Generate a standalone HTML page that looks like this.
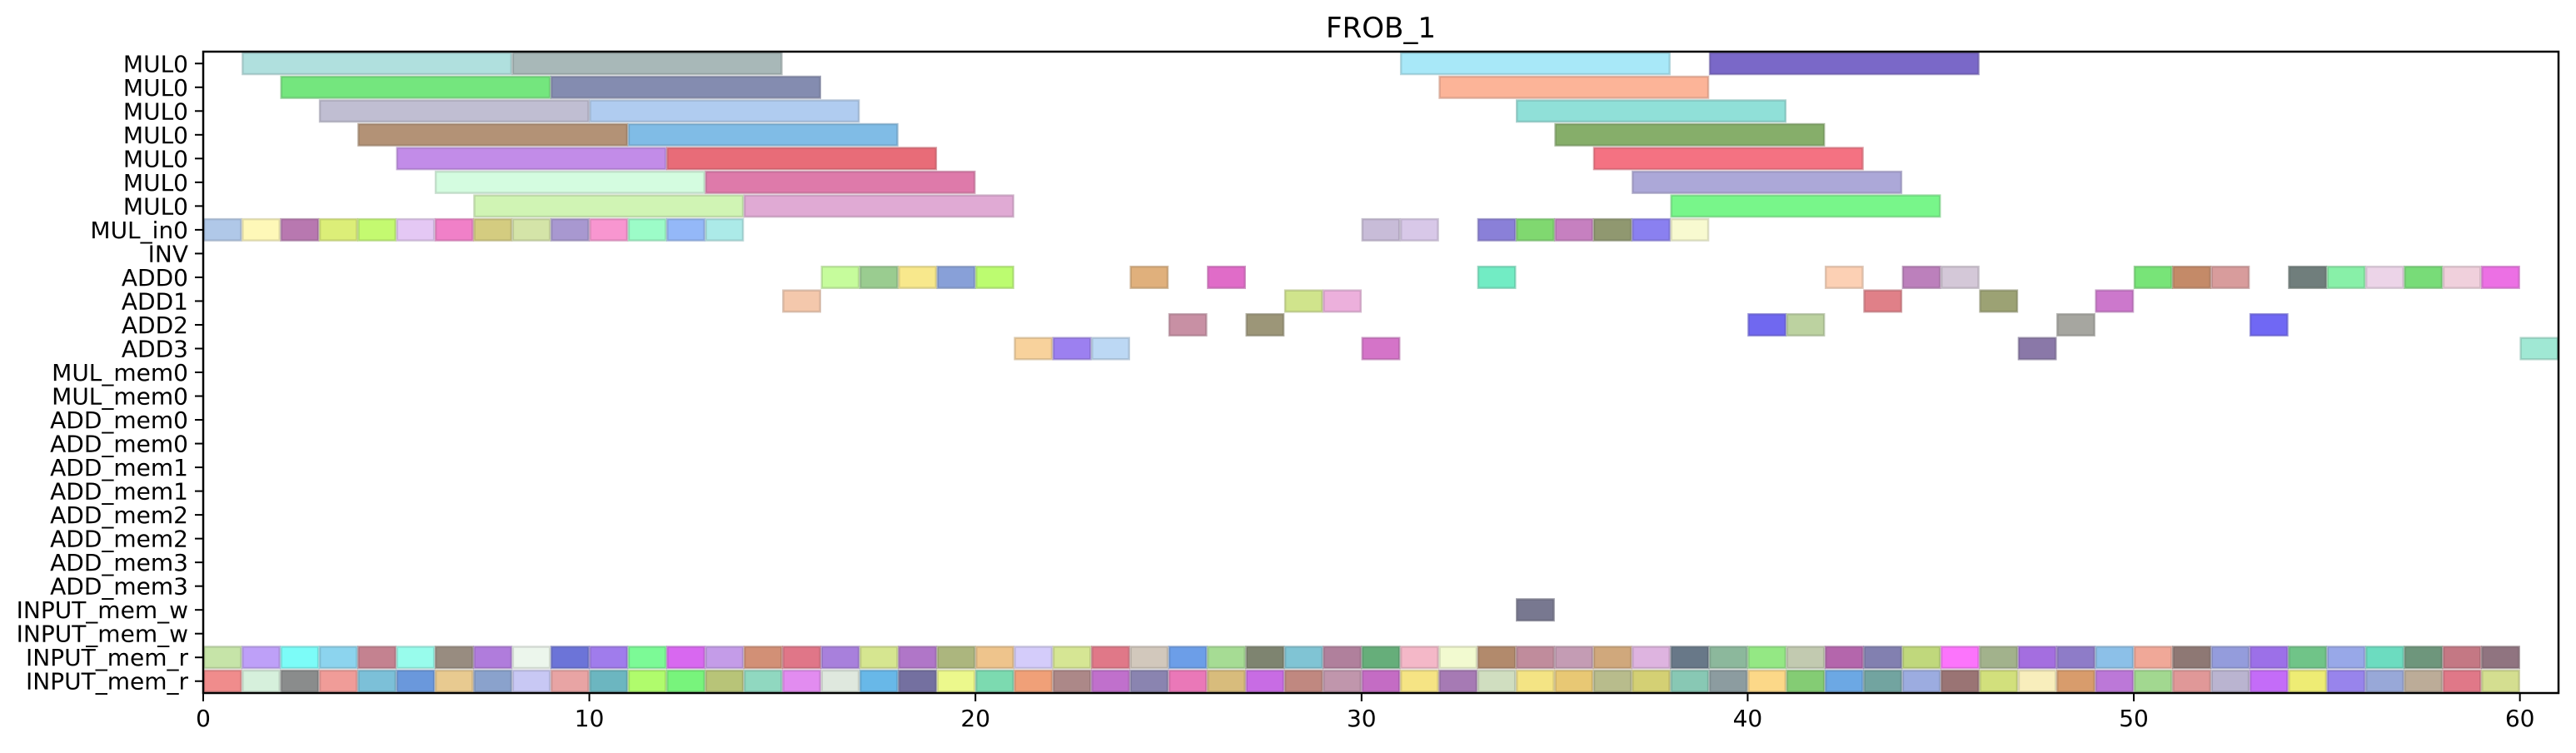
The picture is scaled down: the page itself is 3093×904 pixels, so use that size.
<!DOCTYPE html>
<html><head><meta charset="utf-8"><style>
html,body{margin:0;padding:0;background:#fff;}
svg text{font-family:"DejaVu Sans","Liberation Sans",sans-serif;fill:#000;}
</style></head><body>
<svg id="chart" width="3093" height="899" xmlns="http://www.w3.org/2000/svg">
<text x="1658" y="45" font-size="34" text-anchor="middle">FROB_1</text>
<g id="bars"></g>
<g id="axes"></g>
</svg>
<script>
const rowLabels=["MUL0","MUL0","MUL0","MUL0","MUL0","MUL0","MUL0","MUL_in0","INV","ADD0","ADD1","ADD2","ADD3","MUL_mem0","MUL_mem0","ADD_mem0","ADD_mem0","ADD_mem1","ADD_mem1","ADD_mem2","ADD_mem2","ADD_mem3","ADD_mem3","INPUT_mem_w","INPUT_mem_w","INPUT_mem_r","INPUT_mem_r"];
const xTicks=[0,10,20,30,40,50,60];
// task arrays: row index, start, end, color
const taskRows=[0,0,0,0, 1,1,1, 2,2,2, 3,3,3, 4,4,4, 5,5,5, 6,6,6];
const taskStarts=[1,8,31,39, 2,9,32, 3,10,34, 4,11,35, 5,12,36, 6,13,37, 7,14,38];
const taskEnds=[8,15,38,46, 9,16,39, 10,17,41, 11,18,42, 12,19,43, 13,20,44, 14,21,45];
const taskColors=["#b0e0de","#a8b8b8","#a8e8f8","#7a68c8","#74e67e","#848cb0","#fcb498","#c0bed2","#b0ccf0","#90e0d8","#b39276","#80bce6","#86ae6a","#c28ce8","#e86c78","#f47282","#d4fce0","#de7aaa","#aca8d8","#d0f4b4","#e0aad4","#78f68a"];
// unit-length slots
const slotRows=[7,7,7,7,7,7,7,7,7,7,7,7,7,7,7,7,7,7,7,7,7,7, 9,9,9,9,9,9,9,9,9,9,9,9,9,9,9,9,9,9,9,9, 10,10,10,10,10,10, 11,11,11,11,11,11, 12,12,12,12,12,12, 23];
const slotStarts=[0,1,2,3,4,5,6,7,8,9,10,11,12,13,30,31,33,34,35,36,37,38, 16,17,18,19,20,24,26,33,42,44,45,50,51,52,54,55,56,57,58,59, 15,28,29,43,46,49, 25,27,40,41,48,53, 21,22,23,30,47,60, 34];
const slotColors=["#b0c8e8","#fef8b8","#b878b0","#dcee78","#c4fa70","#e4c8f4","#f080c8","#d4cc80","#d4e4a8","#a898d0","#f896d0","#9cfcc8","#94b8f8","#aceae8","#c8bcd8","#d8c8e8","#8a80d8","#80d870","#c680c0","#909870","#8a80f0","#f8fad0",
"#c6fc9c","#9acc90","#f8e88c","#88a0d8","#bcfc70","#e0b07c","#e06cc8","#72ecc4","#fcd0b4","#bc80bc","#d4c8d8","#78e478","#c48a68","#d89c9c","#707e7c","#88f0a8","#ecd4e8","#78dc78","#f0d0dc","#ec70e4",
"#f4c8ac","#d0e48c","#ecb0dc","#e08088","#9ca274","#cc78cc",
"#c890a4","#9c9678","#7068f0","#bcd2a0","#a6a6a0","#7068f4",
"#f8d29c","#9c80f0","#bcd8f4","#d474c8","#8a78a8","#a0e8d4",
"#787890"];
const memR1Colors=["#c6e4a8","#bea0f8","#7cfcf8","#8cd4ee","#c48290","#98fcec","#988c80","#b07cdc","#ecf6ec","#6c74d8","#a07cec","#7cfa96","#d868f0","#c49ce8","#d29076","#e07688","#a880dc","#d6e690","#b076c8","#acb67e","#eec48c","#d4ccfa","#d6e694","#e07888","#d2c8bc","#6c9ee8","#a6dc94","#7e8470","#80c4d4","#b0809c","#66ae7a","#f4b8c8","#f2fad0","#b28a6c","#c08c9c","#c49cb4","#d0a87c","#deb4e0","#687888","#8cb89c","#94e884","#c2cab0","#b466ac","#8280b0","#c0d87c","#fc74fc","#a2b28c","#a46ee0","#8e7cc8","#8cc0e8","#f0a898","#8e7874","#949cdc","#9c70e8","#70c488","#98a8e8","#6cdcc0","#6e967c","#c47884","#907480"];
const memR2Colors=["#f08c8c","#d6f0dc","#8a8c8c","#f09c98","#7cc0d8","#6a98dc","#e8ca90","#8aa2cc","#c8c8f4","#e8a4a4","#6cb6c0","#b0fc6c","#78f47c","#b8c478","#90d8c0","#e28cf0","#dfe8de","#68b8e8","#7470a0","#ecf88c","#7cdab0","#f0a078","#ac8888","#c070cc","#8a84b0","#ea78b8","#d8bc7c","#c86ce4","#c08880","#c096ac","#c46cc4","#f6e484","#a67ab4","#d0dec0","#f4e484","#e8c874","#b8bc8c","#d4d074","#88c8b4","#8c9ca0","#fcd888","#84cc74","#6ca8e4","#72a4a0","#9cace0","#9a7474","#d2e07c","#f8eebc","#d89c6c","#bc78d8","#a2d890","#e09898","#bab4d0","#c46cf8","#eeec74","#9884ec","#98a8d8","#bcac98","#e07888","#d4de90"];

const NS="http://www.w3.org/2000/svg";
const L=244,R=3072,T=62,B=832,XMAX=61;
const nRows=rowLabels.length, rowH=(B-T)/nRows;
function xs(v){return L+(R-L)*v/XMAX;}
function yc(i){return T+(i+0.5)*rowH;}
function darker(c){const n=parseInt(c.slice(1),16);const f=0.8;
 const r=Math.round(((n>>16)&255)*f),g=Math.round(((n>>8)&255)*f),b=Math.round((n&255)*f);
 return "rgb("+r+","+g+","+b+")";}
const bars=document.getElementById('bars');
function bar(row,s,e,col,name){
 const r=document.createElementNS(NS,'rect');
 const x0=xs(s),x1=Math.min(xs(e),R);
 r.setAttribute('x',x0+1);r.setAttribute('y',yc(row)-rowH/2+1.5);
 r.setAttribute('width',Math.max(0,x1-x0-2));r.setAttribute('height',rowH-3);
 r.setAttribute('fill',col);r.setAttribute('stroke',darker(col));r.setAttribute('stroke-width','2.5');
 r.setAttribute('stroke-opacity','0.6');
 
 
 bars.appendChild(r);}
for(let i=0;i<taskRows.length;i++) bar(taskRows[i],taskStarts[i],taskEnds[i],taskColors[i],'mul0-task');
for(let i=0;i<slotRows.length;i++) bar(slotRows[i],slotStarts[i],slotStarts[i]+1,slotColors[i],'slot-bar');
for(let i=0;i<memR1Colors.length;i++) bar(25,i,i+1,memR1Colors[i],'input-mem-r-bar');
for(let i=0;i<memR2Colors.length;i++) bar(26,i,i+1,memR2Colors[i],'input-mem-r-bar');

const axes=document.getElementById('axes');
function el(tag,attrs,name,txt){const e=document.createElementNS(NS,tag);for(const k in attrs)e.setAttribute(k,attrs[k]);
 
 
 if(txt!==undefined)e.textContent=txt;axes.appendChild(e);return e;}
el('rect',{x:L,y:T,width:R-L,height:B-T,fill:'none',stroke:'#000','stroke-width':2.5},'plot-frame');
for(let i=0;i<nRows;i++){
 const y=yc(i);
 el('line',{x1:L-10,x2:L,y1:y,y2:y,stroke:'#000','stroke-width':2},'y-tick');
 el('text',{x:L-18,y:y+10,'font-size':28,'text-anchor':'end'},'y-tick-label',rowLabels[i]);
}
for(const t of xTicks){
 const x=xs(t);
 el('line',{x1:x,x2:x,y1:B,y2:B+10,stroke:'#000','stroke-width':2},'x-tick');
 el('text',{x:x,y:B+40,'font-size':28,'text-anchor':'middle'},'x-tick-label',String(t));
}
</script>
</body></html>
